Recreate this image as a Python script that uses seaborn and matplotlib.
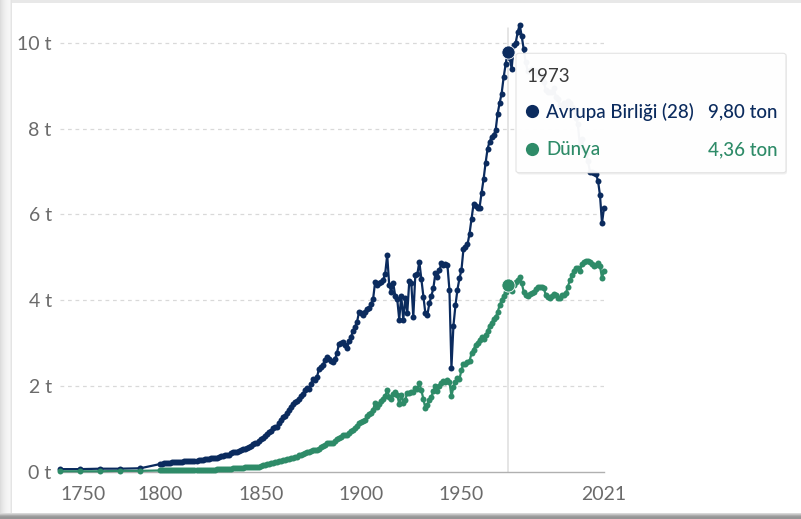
import matplotlib
matplotlib.use("Agg")
import matplotlib.pyplot as plt
from matplotlib.patches import FancyBboxPatch, Rectangle
from matplotlib.lines import Line2D
import seaborn as sns
import pandas as pd

# --- data -------------------------------------------------------------
years = [1750, 1760, 1770, 1780, 1790] + list(range(1800, 2022))

eu_values = [
    0.06, 0.06, 0.07, 0.07, 0.08,
    # 1800s
    0.18, 0.19, 0.20, 0.20, 0.21, 0.21, 0.22, 0.22, 0.23, 0.22,
    0.23, 0.23, 0.24, 0.24, 0.25, 0.25, 0.25, 0.26, 0.26, 0.27,
    0.28, 0.28, 0.29, 0.29, 0.30, 0.31, 0.31, 0.32, 0.33, 0.34,
    0.36, 0.37, 0.38, 0.39, 0.39, 0.44, 0.45, 0.46, 0.47, 0.48,
    0.50, 0.52, 0.54, 0.56, 0.58, 0.61, 0.64, 0.67, 0.68, 0.72,
    0.76, 0.79, 0.83, 0.87, 0.92, 0.95, 1.01, 1.04, 1.05, 1.14,
    1.20, 1.27, 1.29, 1.37, 1.45, 1.52, 1.58, 1.62, 1.64, 1.69,
    1.76, 1.82, 1.90, 1.95, 1.92, 2.05, 2.16, 2.14, 2.20, 2.40,
    2.45, 2.50, 2.60, 2.67, 2.62, 2.58, 2.55, 2.62, 2.78, 2.98,
    3.00, 3.02, 2.96, 2.88, 3.05, 3.15, 3.29, 3.38, 3.50, 3.73,
    # 1900s
    3.70, 3.66, 3.72, 3.80, 3.82, 3.92, 4.04, 4.43, 4.35, 4.40,
    4.43, 4.48, 4.62, 5.06, 4.35, 4.20, 4.40, 4.10, 4.02, 3.55,
    4.10, 3.55, 4.05, 3.70, 4.45, 4.40, 3.61, 4.59, 4.60, 4.90,
    4.50, 4.08, 3.70, 3.65, 3.93, 4.10, 4.28, 4.63, 4.55, 4.70,
    4.86, 4.82, 4.85, 4.82, 4.24, 2.43, 3.41, 3.88, 4.25, 4.51,
    4.71, 5.20, 5.25, 5.30, 5.55, 5.90, 6.24, 6.20, 6.16, 6.16,
    6.50, 6.82, 7.20, 7.53, 7.70, 7.80, 7.85, 7.96, 8.35, 8.60,
    8.82, 9.20, 9.50, 9.80, 9.65, 9.40, 9.95, 10.00, 10.25, 10.43,
    10.16, 9.85, 9.55, 9.35, 9.35, 9.40, 9.35, 9.35, 9.25, 9.25,
    9.15, 9.10, 8.90, 8.85, 8.85, 8.85, 8.95, 8.75, 8.70, 8.55,
    # 2000s
    8.52, 8.60, 8.55, 8.65, 8.60, 8.50, 8.45, 8.25, 8.10, 7.60,
    7.75, 7.50, 7.40, 7.25, 7.00, 6.98, 6.96, 6.94, 6.79, 6.45,
    5.80, 6.15,
]

world_values = [
    0.01, 0.01, 0.01, 0.02, 0.02,
    # 1800s
    0.03, 0.03, 0.03, 0.03, 0.03, 0.03, 0.03, 0.03, 0.04, 0.04,
    0.04, 0.04, 0.04, 0.04, 0.04, 0.04, 0.04, 0.04, 0.04, 0.04,
    0.05, 0.05, 0.05, 0.05, 0.05, 0.05, 0.05, 0.05, 0.06, 0.06,
    0.06, 0.06, 0.06, 0.07, 0.07, 0.07, 0.08, 0.08, 0.08, 0.09,
    0.09, 0.09, 0.10, 0.10, 0.10, 0.11, 0.11, 0.12, 0.12, 0.12,
    0.14, 0.15, 0.16, 0.17, 0.19, 0.20, 0.21, 0.22, 0.22, 0.24,
    0.25, 0.27, 0.27, 0.29, 0.30, 0.32, 0.33, 0.35, 0.35, 0.38,
    0.39, 0.41, 0.44, 0.46, 0.45, 0.48, 0.50, 0.50, 0.51, 0.54,
    0.58, 0.60, 0.63, 0.67, 0.67, 0.67, 0.68, 0.72, 0.77, 0.79,
    0.82, 0.86, 0.86, 0.85, 0.90, 0.94, 0.97, 1.01, 1.06, 1.13,
    # 1900s
    1.16, 1.18, 1.20, 1.30, 1.34, 1.38, 1.45, 1.61, 1.52, 1.58,
    1.66, 1.69, 1.76, 1.90, 1.75, 1.70, 1.82, 1.86, 1.80, 1.57,
    1.80, 1.60, 1.68, 1.84, 1.83, 1.85, 1.85, 1.95, 1.93, 2.06,
    1.90, 1.70, 1.48, 1.55, 1.68, 1.75, 1.88, 2.00, 1.88, 2.00,
    2.08, 2.12, 2.10, 2.14, 2.10, 1.76, 1.98, 2.10, 2.18, 2.16,
    2.38, 2.52, 2.52, 2.55, 2.58, 2.76, 2.85, 2.95, 3.00, 3.08,
    3.14, 3.10, 3.18, 3.28, 3.40, 3.46, 3.57, 3.60, 3.72, 3.88,
    4.00, 4.10, 4.20, 4.36, 4.26, 4.22, 4.35, 4.42, 4.48, 4.53,
    4.40, 4.20, 4.12, 4.10, 4.14, 4.18, 4.20, 4.26, 4.31, 4.32,
    4.30, 4.28, 4.12, 4.08, 4.06, 4.10, 4.14, 4.12, 4.06, 4.06,
    # 2000s
    4.12, 4.12, 4.16, 4.32, 4.46, 4.58, 4.68, 4.75, 4.75, 4.68,
    4.84, 4.90, 4.92, 4.92, 4.90, 4.84, 4.80, 4.82, 4.86, 4.80,
    4.52, 4.68,
]

series_names = ["Avrupa Birliği (28)", "Dünya"]
series_colors = ["#0B2B5E", "#2E8B68"]

x_ticks = [1750, 1800, 1850, 1900, 1950, 2021]
y_ticks = [0, 2, 4, 6, 8, 10]
y_tick_labels = ["0 t", "2 t", "4 t", "6 t", "8 t", "10 t"]

hover_year = 1973
hover_labels = ["9,80 ton", "4,36 ton"]

# --- figure -------------------------------------------------------------
W, H = 801, 519
sns.set_theme(style="white")
plt.rcParams['font.family'] = ['Lato', 'DejaVu Sans']

fig = plt.figure(figsize=(W / 100, H / 100), dpi=100)
fig.patch.set_facecolor("white")

px_per_t = 42.87
y_zero = 471.7
ax = fig.add_axes([60 / W, (H - y_zero) / H, 544 / W, 10.5 * px_per_t / H])

df = pd.DataFrame({
    "year": years * 2,
    "value": eu_values + world_values,
    "series": [series_names[0]] * len(years) + [series_names[1]] * len(years),
})

sns.lineplot(data=df, x="year", y="value", hue="series",
             palette=dict(zip(series_names, series_colors)),
             marker="o", markersize=4.3, markeredgewidth=0,
             linewidth=1.6, legend=False, ax=ax, clip_on=False, zorder=3)

# dashed grid
for yv in y_ticks[1:]:
    ax.axhline(yv, color="#d9d9d9", lw=0.9, ls=(0, (3, 3)), zorder=0)

# hover line + highlighted points
ax.axvline(hover_year, ymax=10.35 / 10.5, color="#dedede", lw=1.1, zorder=1)
hi = years.index(hover_year)
for vals, col in zip([eu_values, world_values], series_colors):
    ax.plot([hover_year], [vals[hi]], marker="o", markersize=9.5, color=col,
            markeredgecolor="white", markeredgewidth=0.6, zorder=5, clip_on=False)

ax.set_xlim(1750, 2021)
ax.set_ylim(0, 10.5)
ax.set_xlabel("")
ax.set_ylabel("")
for s in ["top", "right", "left"]:
    ax.spines[s].set_visible(False)
ax.spines["bottom"].set_color("#b0b0b0")
ax.spines["bottom"].set_linewidth(1)

ax.set_xticks(x_ticks)
ax.set_xticklabels([str(x) for x in x_ticks])
ax.get_xticklabels()[0].set_ha("left")
ax.set_yticks(y_ticks)
ax.set_yticklabels(y_tick_labels)
ax.tick_params(axis="x", length=5, width=1, color="#b0b0b0", labelsize=14,
               labelcolor="#6b6b6b", pad=5, direction="out")
ax.tick_params(axis="y", length=0, labelsize=14, labelcolor="#6b6b6b", pad=6)
ax.set_facecolor("none")

# --- tooltip --------------------------------------------------------------
def fx(x):
    return x / W

def fy(y):
    return 1 - y / H

shadow = FancyBboxPatch((fx(517), fy(174.5)), fx(270), 120 / H,
                        boxstyle="round,pad=0,rounding_size=0.004",
                        transform=fig.transFigure, facecolor="black",
                        edgecolor="none", alpha=0.06, zorder=9)
fig.add_artist(shadow)
box = FancyBboxPatch((fx(516), fy(172.7)), fx(270), 119.4 / H,
                     boxstyle="round,pad=0,rounding_size=0.004",
                     transform=fig.transFigure, facecolor=(1, 1, 1, 0.965),
                     edgecolor="#e3e3e3", lw=0.8, zorder=10)
fig.add_artist(box)

fig.text(fx(526.5), fy(77), str(hover_year), color="#3a3a3a", fontsize=13.5,
         ha="left", va="center", zorder=11)
row_y = [111, 149]
for name, val, col, ry in zip(series_names, hover_labels, series_colors, row_y):
    fig.add_artist(Line2D([fx(531.7)], [fy(ry)], marker="o", markersize=9.5,
                          color=col, markeredgewidth=0, transform=fig.transFigure,
                          zorder=11))
    fig.text(fx(546), fy(ry + 1), name, color=col, fontsize=13.5, fontweight="medium",
             ha="left", va="center", zorder=11)
    fig.text(fx(777), fy(ry + 1), val, color=col, fontsize=13.5, fontweight="medium",
             ha="right", va="center", zorder=11)

# --- screenshot frame ---------------------------------------------------
fig.add_artist(Rectangle((0, fy(3)), 1, 3 / H, transform=fig.transFigure,
                         facecolor="#e8e8e8", edgecolor="none", zorder=12))
left_shades = ["#dcdcdc", "#e2e2e2", "#e6e6e6", "#eaeaea", "#ededed", "#f0f0f0",
               "#f2f2f2", "#f4f4f4", "#f5f5f5", "#f6f6f6", "#eeeeee", "#e4e4e4"]
for i, c in enumerate(left_shades):
    fig.add_artist(Rectangle((fx(i), 0), 1 / W, 1, transform=fig.transFigure,
                             facecolor=c, edgecolor="none", zorder=12))
bottom_shades = ["#d8d8d8", "#c4c4c4", "#acacac", "#9c9c9c", "#959595", "#959595"]
for i, c in enumerate(bottom_shades):
    fig.add_artist(Rectangle((0, fy(514 + i)), 1, 1 / H, transform=fig.transFigure,
                             facecolor=c, edgecolor="none", zorder=12))

fig.savefig("out.png", dpi=100, facecolor="white")
